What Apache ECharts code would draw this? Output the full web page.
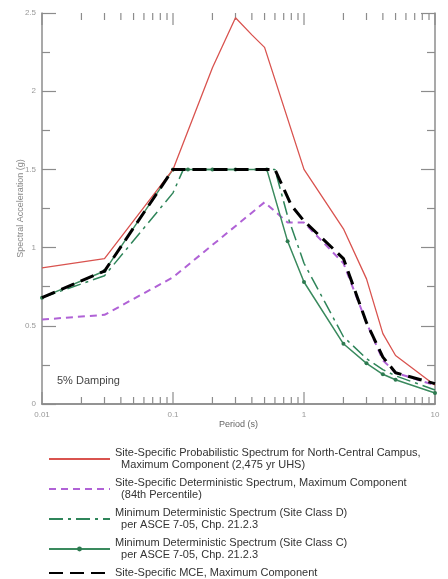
<!DOCTYPE html>
<html><head><meta charset="utf-8">
<script src="https://cdn.jsdelivr.net/npm/echarts@6/dist/echarts.min.js"></script>
<style>html,body{margin:0;padding:0;background:#fff}#c{width:448px;height:579px}</style>
</head><body><div id="c"></div>
<script>
// Period (s) and spectral acceleration (g)
const probT  = [0.01, 0.03, 0.1, 0.2, 0.3, 0.4, 0.5, 1, 2, 3, 4, 5, 10];
const probSa = [0.87, 0.93, 1.5, 2.15, 2.47, 2.36, 2.28, 1.5, 1.12, 0.8, 0.45, 0.31, 0.12];

const detT  = [0.01, 0.03, 0.1, 0.5, 0.75, 1, 2, 3, 4, 5, 10];
const detSa = [0.54, 0.57, 0.81, 1.29, 1.16, 1.16, 0.9, 0.52, 0.28, 0.2, 0.12];

const classDT  = [0.01, 0.03, 0.1, 0.12, 0.6, 0.75, 1, 2, 3, 4, 5, 10];
const classDSa = [0.68, 0.82, 1.35, 1.5, 1.5, 1.2, 0.9, 0.43, 0.29, 0.22, 0.18, 0.09];

const classCT  = [0.01, 0.03, 0.1, 0.13, 0.2, 0.3, 0.52, 0.75, 1, 2, 3, 4, 5, 10];
const classCSa = [0.68, 0.85, 1.5, 1.5, 1.5, 1.5, 1.5, 1.04, 0.78, 0.385, 0.26, 0.19, 0.155, 0.07];

const mceT  = [0.01, 0.03, 0.1, 0.6, 0.8, 1, 2, 3, 4, 5, 10];
const mceSa = [0.68, 0.85, 1.5, 1.5, 1.27, 1.17, 0.93, 0.52, 0.3, 0.2, 0.13];

const xTickLabels = ['0.01', '0.1', '1', '10'];
const yTickLabels = ['0', '0.5', '1', '1.5', '2', '2.5'];
const logMajorTicks = [0.01, 0.1, 1, 10];
const logMinorTicks = [0.02,0.03,0.04,0.05,0.06,0.07,0.08,0.09,
                       0.2,0.3,0.4,0.5,0.6,0.7,0.8,0.9,
                       2,3,4,5,6,7,8,9];

const names = [
  'Site-Specific Probabilistic Spectrum for North-Central Campus,\n  Maximum Component (2,475 yr UHS)',
  'Site-Specific Deterministic Spectrum, Maximum Component\n  (84th Percentile)',
  'Minimum Deterministic Spectrum (Site Class D)\n  per ASCE 7-05, Chp. 21.2.3',
  'Minimum Deterministic Spectrum (Site Class C)\n  per ASCE 7-05, Chp. 21.2.3',
  'Site-Specific MCE, Maximum Component'
];

function pairs(t, s) { return t.map((v, i) => [v, s[i]]); }

const FONT = 'Liberation Sans, Arial, sans-serif';
const AX = '#8c8c8c';

const tickData = logMajorTicks.map(v => [v, 12]).concat(logMinorTicks.map(v => [v, 7]));

const chart = echarts.init(document.getElementById('c'), null, {renderer: 'canvas'});
chart.setOption({
  animation: false,
  backgroundColor: '#fff',
  grid: {left: 42, right: 13, top: 13, bottom: 175, containLabel: false},
  xAxis: [{
    type: 'log', logBase: 10, min: 0.01, max: 10,
    name: 'Period (s)', nameLocation: 'middle', nameGap: 16, nameMoveOverlap: false,
    nameTextStyle: {fontFamily: FONT, fontSize: 9, color: '#666'},
    axisLine: {lineStyle: {color: AX, width: 1.5}},
    axisTick: {show: false},
    axisLabel: {fontFamily: FONT, fontSize: 8, color: '#999', margin: 7,
      formatter: v => { const i = Math.round(Math.log10(v) + 2); return xTickLabels[i] || ''; }},
    splitLine: {show: false}, minorTick: {show: false}
  }, {
    type: 'log', logBase: 10, min: 0.01, max: 10, position: 'top',
    axisLine: {lineStyle: {color: AX, width: 1.5}},
    axisTick: {show: false},
    axisLabel: {show: false}, splitLine: {show: false}
  }],
  yAxis: [{
    type: 'value', min: 0, max: 2.5, interval: 0.5,
    name: 'Spectral Acceleration (g)', nameLocation: 'middle', nameGap: 17, nameMoveOverlap: false,
    nameTextStyle: {fontFamily: FONT, fontSize: 9, color: '#888'},
    axisLine: {show: true, lineStyle: {color: AX, width: 1.5}},
    axisTick: {show: true, inside: true, length: 14, lineStyle: {color: AX, width: 1.2}},
    minorTick: {show: true, splitNumber: 2, length: 8, lineStyle: {color: AX, width: 1.2}},
    axisLabel: {fontFamily: FONT, fontSize: 8, color: '#999', margin: 6,
      formatter: v => yTickLabels[Math.round(v * 2)]},
    splitLine: {show: false}
  }, {
    type: 'value', min: 0, max: 2.5, interval: 0.5, position: 'right',
    axisLine: {show: true, lineStyle: {color: AX, width: 1.5}},
    axisTick: {show: true, inside: true, length: 14, lineStyle: {color: AX, width: 1.2}},
    minorTick: {show: true, splitNumber: 2, length: 8, lineStyle: {color: AX, width: 1.2}},
    axisLabel: {show: false}, splitLine: {show: false}
  }],
  legend: {
    orient: 'vertical', left: 48, top: 447, height: 140, padding: 0,
    itemWidth: 61, itemHeight: 6, itemGap: 6,
    textStyle: {fontFamily: FONT, fontSize: 11, color: '#333', lineHeight: 12},
    selectedMode: false,
    data: [
      {name: names[0], itemStyle: {opacity: 0}},
      {name: names[1], itemStyle: {opacity: 0}},
      {name: names[2], itemStyle: {opacity: 0}},
      {name: names[3]},
      {name: names[4], itemStyle: {opacity: 0}}
    ]
  },
  graphic: [{
    type: 'text', left: 57, top: 375,
    style: {text: '5% Damping', font: '11px ' + FONT, fill: '#444'}
  }],
  series: [
    {name: names[0], type: 'line', data: pairs(probT, probSa), symbol: 'none',
     lineStyle: {color: '#d9534f', width: 1.3}, itemStyle: {color: '#d9534f'}, z: 3},
    {name: names[1], type: 'line', data: pairs(detT, detSa), symbol: 'none',
     lineStyle: {color: '#b062d6', width: 2, type: [7, 5]}, itemStyle: {color: '#b062d6'}, z: 2},
    {name: names[2], type: 'line', data: pairs(classDT, classDSa), symbol: 'none',
     lineStyle: {color: '#2f855a', width: 1.5, type: [14, 5, 3, 5]}, itemStyle: {color: '#2f855a'}, z: 2},
    {name: names[3], type: 'line', data: pairs(classCT, classCSa), symbol: 'circle', symbolSize: 4,
     lineStyle: {color: '#3a8a5e', width: 1.5}, itemStyle: {color: '#2d7a50'}, z: 2},
    {name: names[4], type: 'line', data: pairs(mceT, mceSa), symbol: 'none',
     lineStyle: {color: '#000', width: 3, type: [14, 7]}, itemStyle: {color: '#000'}, z: 4},
    {type: 'custom', silent: true, clip: false, z: 1,
     data: tickData,
     renderItem: (params, api) => {
       const x = api.value(0);
       const len = api.value(1);
       const b = api.coord([x, 0]);
       const t = api.coord([x, 2.5]);
       const st = {stroke: AX, lineWidth: 1.2};
       return {type: 'group', children: [
         {type: 'line', shape: {x1: b[0], y1: b[1], x2: b[0], y2: b[1] - len}, style: st},
         {type: 'line', shape: {x1: t[0], y1: t[1], x2: t[0], y2: t[1] + len}, style: st}
       ]};
     }}
  ]
});
</script>
</body></html>
